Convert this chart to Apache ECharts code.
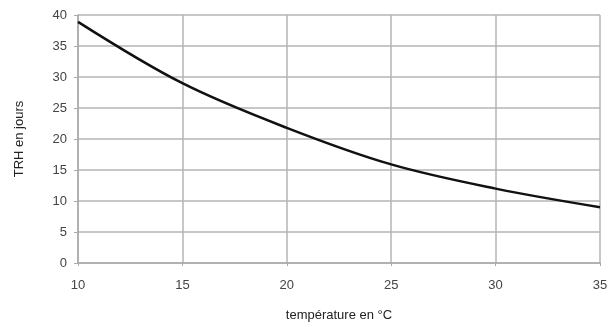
<!DOCTYPE html>
<html>
<head>
<meta charset="utf-8">
<script src="https://cdn.jsdelivr.net/npm/echarts@6/dist/echarts.min.js"></script>
<style>html,body{margin:0;padding:0;background:#fff;}#c{width:616px;height:327px;}</style>
</head>
<body>
<div id="c"></div>
<script>
const temperatures = [10, 15, 20, 25, 30, 35];
const trhJours = [38.9, 29.0, 21.8, 15.9, 12.0, 9.0];
const xTicks = [10, 15, 20, 25, 30, 35];
const yTicks = [0, 5, 10, 15, 20, 25, 30, 35, 40];

const chart = echarts.init(document.getElementById('c'), null, {renderer: 'canvas'});
const font = 'Liberation Sans, Arial, sans-serif';
chart.setOption({
  animation: false,
  backgroundColor: '#fff',
  grid: {left: 78, right: 16, top: 15, bottom: 64, containLabel: false},
  xAxis: {
    type: 'value',
    min: xTicks[0], max: xTicks[xTicks.length - 1], interval: 5,
    name: 'température en °C',
    nameLocation: 'middle', nameGap: 46,
    nameTextStyle: {color: '#222', fontSize: 13, fontFamily: font},
    axisLine: {show: true, lineStyle: {color: '#aaa', width: 1.5}},
    axisTick: {show: true, length: 3, lineStyle: {color: '#aaa'}},
    axisLabel: {color: '#444', fontSize: 13, fontFamily: font, margin: 16},
    splitLine: {show: true, lineStyle: {color: '#b5b5b5', width: 1.5}}
  },
  yAxis: {
    type: 'value',
    min: yTicks[0], max: yTicks[yTicks.length - 1], interval: 5,
    name: 'TRH en jours',
    nameLocation: 'middle', nameGap: 52,
    nameTextStyle: {color: '#222', fontSize: 13, fontFamily: font},
    axisLine: {show: true, lineStyle: {color: '#aaa', width: 1.5}},
    axisTick: {show: true, length: 4, lineStyle: {color: '#aaa'}},
    axisLabel: {color: '#444', fontSize: 13, fontFamily: font, margin: 11},
    splitLine: {show: true, lineStyle: {color: '#b5b5b5', width: 1.5}}
  },
  series: [{
    type: 'line',
    data: temperatures.map((t, i) => [t, trhJours[i]]),
    smooth: 0.35,
    showSymbol: false,
    lineStyle: {color: '#111', width: 2.5}
  }]
});
</script>
</body>
</html>
